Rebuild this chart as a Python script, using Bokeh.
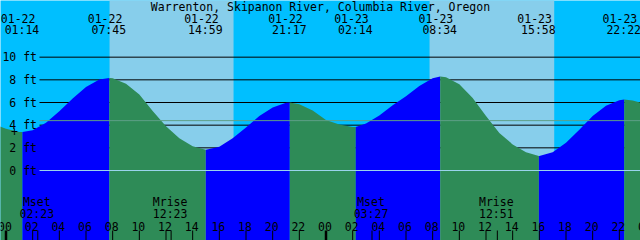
from bokeh.plotting import figure
from bokeh.models import Range1d
from bokeh.core.properties import value
from bokeh.embed import file_html
from bokeh.resources import INLINE

# ---------------- data ----------------
title_text = "Warrenton, Skipanon River, Columbia River, Oregon"

day_names = ["01-22", "01-23"]

# tide extremes (date, time, height in ft)
event_dates = ["01-22", "01-22", "01-22", "01-22", "01-23", "01-23", "01-23", "01-23"]
event_times = ["01:14", "07:45", "14:59", "21:17", "02:14", "08:34", "15:58", "22:22"]
event_ft = [3.39, 8.17, 1.83, 6.00, 3.83, 8.30, 1.27, 6.26]

# tide height (hours after 01-22 00:00)
curve_hours = [-0.5] + list(range(0, 48)) + [47.6]
curve_ft = [3.90,
            3.68, 3.40, 3.55, 4.21, 5.22, 6.36, 7.37, 8.02,
            8.13, 7.65, 6.70, 5.25, 3.90, 2.85, 2.15, 1.83,
            2.10, 2.85, 3.80, 4.80, 5.55, 5.97, 5.85, 5.30,
            4.45, 4.05, 3.84, 4.15, 4.85, 5.75, 6.55, 7.45,
            8.15, 8.22, 7.60, 6.40, 4.80, 3.30, 2.30, 1.60,
            1.28, 1.62, 2.45, 3.60, 4.80, 5.72, 6.20, 6.17,
            5.98]

sunrise_times = ["07:46", "07:46"]
sunset_times = ["17:04", "17:07"]

moon_names = ["Mset", "Mrise", "Mset", "Mrise"]
moon_dates = ["01-22", "01-22", "01-23", "01-23"]
moon_times = ["02:23", "12:23", "03:27", "12:51"]

hour_labels = ["00", "02", "04", "06", "08", "10", "12", "14", "16", "18", "20", "22"]

level_ft = [0, 2, 4, 6, 8, 10]
level_labels = ["0 ft", "2 ft", "4 ft", "6 ft", "8 ft", "10 ft"]
msl_ft = 4.4

# ---------------- helpers ----------------
def hours(date, hhmm):
    h, m = hhmm.split(":")
    return 24 * day_names.index(date) + int(h) + int(m) / 60.0

X0, PXH = 5.5, 40.0 / 3.0     # pixel of 01-22 00:00, pixels per hour
Y0, PXF = 170.0, 11.333       # pixel of 0 ft, pixels per foot

def tx(px):
    return (px - X0) / PXH

def hy(py):
    return (Y0 - py) / PXF

FONT = value("DejaVu Sans Mono")
FS = "11.5px"
NIGHT, DAY = "#00BFFF", "#87CEEB"
FLOOD, EBB = "#0000FF", "#2E8B57"

p = figure(width=640, height=240, output_backend="svg", toolbar_location=None,
           x_range=Range1d(tx(0), tx(640)), y_range=Range1d(hy(240), hy(0)),
           x_axis_type=None, y_axis_type=None, min_border=0,
           background_fill_color=NIGHT, border_fill_color=NIGHT,
           outline_line_color=None)
p.grid.visible = False

# daylight bands
rise = [hours(d, t) for d, t in zip(day_names, sunrise_times)]
sset = [hours(d, t) for d, t in zip(day_names, sunset_times)]
p.quad(left=rise, right=sset, bottom=hy(260), top=hy(-20), fill_color=DAY, line_color=None)

# level lines (behind water)
p.segment(x0=[tx(39)] * len(level_ft), x1=[tx(660)] * len(level_ft),
          y0=level_ft, y1=level_ft, line_color="black", line_width=1)

# tide area split at extremes
ev_t = [hours(d, t) for d, t in zip(event_dates, event_times)]
pts = sorted(list(zip(curve_hours, curve_ft)) + list(zip(ev_t, event_ft)))
bounds = [curve_hours[0]] + ev_t + [curve_hours[-1]]
for a, b in zip(bounds[:-1], bounds[1:]):
    seg = [(t, h) for t, h in pts if a - 1e-9 <= t <= b + 1e-9]
    xs = [s[0] for s in seg]
    ys = [s[1] for s in seg]
    col = FLOOD if ys[-1] > ys[0] else EBB
    p.varea(x=xs, y1=[hy(260)] * len(xs), y2=ys, fill_color=col)

# mean level and datum lines (over water)
p.segment(x0=[tx(39)], x1=[tx(660)], y0=[msl_ft], y1=[msl_ft], line_color="#5E9F86", line_width=1)
p.segment(x0=[tx(39)], x1=[tx(660)], y0=[0], y1=[0], line_color="#9AD3EC", line_width=1)

# level labels
p.text(x=[tx(36.5)] * len(level_ft), y=level_ft, text=level_labels, text_font=FONT,
       text_font_size=FS, text_align="right", text_baseline="middle", text_color="black")
p.text(x=[tx(14)], y=[hy(131)], text=["+"], text_font=FONT, text_font_size=FS,
       text_align="center", text_baseline="middle", text_color="black")

# title
p.text(x=[tx(320)], y=[hy(6)], text=[title_text], text_font=FONT, text_font_size=FS,
       text_align="center", text_baseline="middle", text_color="black")

# tide event labels
p.text(x=ev_t, y=[hy(17.5)] * len(ev_t), text=event_dates, x_offset=-4.3, text_font=FONT,
       text_font_size=FS, text_align="center", text_baseline="middle", text_color="black")
p.text(x=ev_t, y=[hy(29.5)] * len(ev_t), text=event_times, x_offset=-0.5, text_font=FONT,
       text_font_size=FS, text_align="center", text_baseline="middle", text_color="black")

# hour ticks and labels
tick_t = [24 * d + int(h) for d in range(2) for h in hour_labels] + [48]
tick_lab = hour_labels * 2 + ["00"]
p.text(x=tick_t, y=[hy(225.5)] * len(tick_t), text=tick_lab, x_offset=-1, text_font=FONT,
       text_font_size=FS, text_align="center", text_baseline="middle", text_color="black")
norm = [t for t in tick_t if t % 24 != 0]
mid = [t for t in tick_t if t % 24 == 0]
p.segment(x0=norm, x1=norm, y0=[hy(230)] * len(norm), y1=[hy(245)] * len(norm),
          line_color="black", line_width=1)
p.segment(x0=mid, x1=mid, y0=[hy(230)] * len(mid), y1=[hy(245)] * len(mid),
          line_color="black", line_width=2.5)

# moon events
moon_t = [hours(d, t) for d, t in zip(moon_dates, moon_times)]
p.segment(x0=moon_t, x1=moon_t, y0=[hy(230)] * len(moon_t), y1=[hy(245)] * len(moon_t),
          line_color="black", line_width=1)
p.text(x=moon_t, y=[hy(201.7)] * len(moon_t), text=moon_names, x_offset=-1, text_font=FONT,
       text_font_size=FS, text_align="center", text_baseline="middle", text_color="black")
p.text(x=moon_t, y=[hy(213.5)] * len(moon_t), text=moon_times, x_offset=-1, text_font=FONT,
       text_font_size=FS, text_align="center", text_baseline="middle", text_color="black")

open("out.html", "w").write(file_html(p, INLINE))
